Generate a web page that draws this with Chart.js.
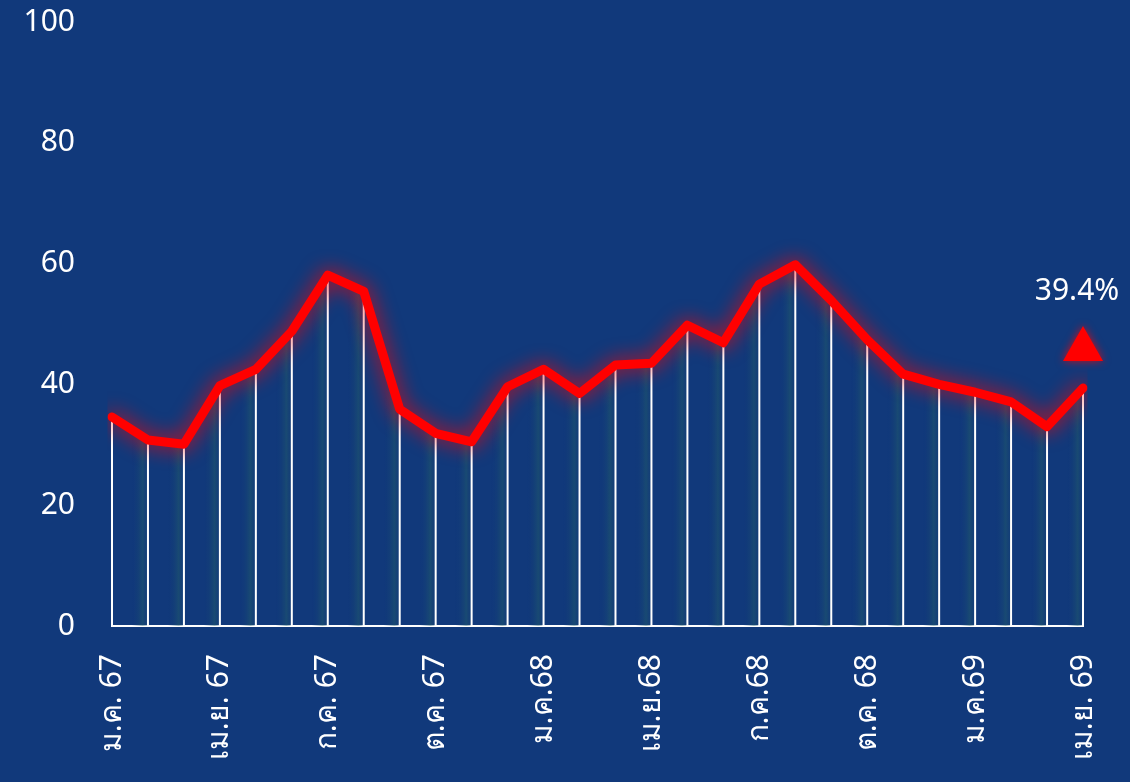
<!DOCTYPE html>
<html>
<head>
<meta charset="utf-8">
<script src="https://cdn.jsdelivr.net/npm/chart.js@4"></script>
<style>
  html, body { margin: 0; padding: 0; background: #11397b; overflow: hidden; }
  #wrap { width: 1130px; height: 820px; position: relative; }
</style>
</head>
<body>
<div id="wrap"><canvas id="chart"></canvas></div>
<script>
const months = ['ม.ค. 67', 'ก.พ. 67', 'มี.ค. 67', 'เม.ย. 67', 'พ.ค. 67', 'มิ.ย. 67',
  'ก.ค. 67', 'ส.ค. 67', 'ก.ย. 67', 'ต.ค. 67', 'พ.ย. 67', 'ธ.ค. 67',
  'ม.ค.68', 'ก.พ.68', 'มี.ค.68', 'เม.ย.68', 'พ.ค.68', 'มิ.ย.68',
  'ก.ค.68', 'ส.ค.68', 'ก.ย.68', 'ต.ค. 68', 'พ.ย.68', 'ธ.ค.68',
  'ม.ค.69', 'ก.พ.69', 'มี.ค.69', 'เม.ย. 69'];
const values = [34.6, 30.8, 30.1, 39.8, 42.5, 48.8, 58.1, 55.4, 35.9, 31.9, 30.5, 39.6,
  42.5, 38.5, 43.2, 43.5, 49.8, 46.9, 56.6, 59.8, 53.9, 47.4, 41.7, 40.0,
  38.7, 37.1, 33.0, 39.4];
const yTicks = [0, 20, 40, 60, 80, 100];
const lastLabel = '39.4%';

const font = "'Noto Sans', sans-serif";

// gradient strips between the drop lines
function stripFill(context) {
  const chart = context.chart;
  const area = chart.chartArea;
  if (!area) return 'rgba(0,0,0,0)';
  const xs = chart.scales.x;
  const g = chart.ctx.createLinearGradient(area.left, 0, area.right, 0);
  const w = area.right - area.left;
  for (let i = 0; i < values.length - 1; i++) {
    const f0 = (xs.getPixelForValue(i) - area.left) / w;
    const f1 = (xs.getPixelForValue(i + 1) - area.left) / w;
    const d = f1 - f0;
    g.addColorStop(Math.max(0, f0), 'rgba(17,57,123,0)');
    g.addColorStop(f0 + d * 0.55, 'rgba(17,57,123,0)');
    g.addColorStop(f0 + d * 0.85, 'rgba(35,95,105,0.45)');
    g.addColorStop(Math.min(1, f1 - d * 0.04), 'rgba(30,80,110,0.25)');
  }
  return g;
}

const glowPlugin = {
  id: 'glow',
  beforeDatasetDraw(chart, args) {
    if (args.index !== 0) return;
    const ctx = chart.ctx;
    const yBase = chart.scales.y.getPixelForValue(0);
    // white drop lines
    ctx.save();
    ctx.strokeStyle = '#ffffff';
    ctx.lineWidth = 2;
    args.meta.data.forEach(p => {
      ctx.beginPath();
      ctx.moveTo(p.x, p.y);
      ctx.lineTo(p.x, yBase);
      ctx.stroke();
    });
    ctx.restore();
    ctx.save();
    ctx.shadowColor = 'rgba(255,0,0,0.95)';
    ctx.shadowBlur = 20;
  },
  afterDatasetDraw(chart, args) {
    if (args.index !== 0) return;
    chart.ctx.restore();
  },
  afterDatasetsDraw(chart) {
    const ctx = chart.ctx;
    const meta = chart.getDatasetMeta(0);
    const p = meta.data[meta.data.length - 1];
    ctx.save();
    ctx.fillStyle = '#ff0000';
    ctx.shadowColor = 'rgba(255,0,0,0.8)';
    ctx.shadowBlur = 8;
    ctx.beginPath();
    ctx.moveTo(p.x, p.y - 62);
    ctx.lineTo(p.x + 20, p.y - 27);
    ctx.lineTo(p.x - 20, p.y - 27);
    ctx.closePath();
    ctx.fill();
    ctx.restore();
    ctx.save();
    ctx.fillStyle = '#ffffff';
    ctx.font = '30px ' + font;
    ctx.textAlign = 'center';
    ctx.textBaseline = 'alphabetic';
    ctx.fillText(lastLabel, p.x - 6, p.y - 88);
    ctx.restore();
  }
};

new Chart(document.getElementById('chart'), {
  type: 'line',
  data: {
    labels: months,
    datasets: [{
      data: values,
      borderColor: '#ff0000',
      borderWidth: 9,
      borderJoinStyle: 'round',
      borderCapStyle: 'round',
      tension: 0,
      pointRadius: 0,
      fill: false,
      order: 1
    }, {
      data: values,
      borderWidth: 0,
      pointRadius: 0,
      tension: 0,
      fill: 'origin',
      backgroundColor: stripFill,
      order: 2
    }]
  },
  options: {
    responsive: true,
    maintainAspectRatio: false,
    animation: false,
    layout: { padding: { top: 22, right: 47, left: 0, bottom: 0 } },
    plugins: { legend: { display: false }, tooltip: { enabled: false } },
    scales: {
      x: {
        grid: { display: false, drawTicks: false },
        border: { display: true, color: '#ffffff', width: 2 },
        afterFit(scale) {
          scale.height = 194;
          scale.paddingLeft = 0;
          scale.paddingRight = 0;
        },
        ticks: {
          color: '#ffffff',
          font: { family: font, size: 30 },
          autoSkip: false,
          minRotation: 90,
          maxRotation: 90,
          padding: 28,
          callback(value, index) {
            return index % 3 === 0 ? months[index] : '';
          }
        }
      },
      y: {
        min: 0,
        max: 100,
        grid: { display: false, drawTicks: false },
        border: { display: false },
        afterFit(scale) {
          scale.width = 112;
          scale.paddingTop = 0;
          scale.paddingBottom = 0;
        },
        afterBuildTicks(scale) { scale.ticks = yTicks.map(v => ({ value: v })); },
        ticks: {
          color: '#ffffff',
          font: { family: font, size: 30 },
          padding: 37
        }
      }
    }
  },
  plugins: [glowPlugin]
});
</script>
</body>
</html>
